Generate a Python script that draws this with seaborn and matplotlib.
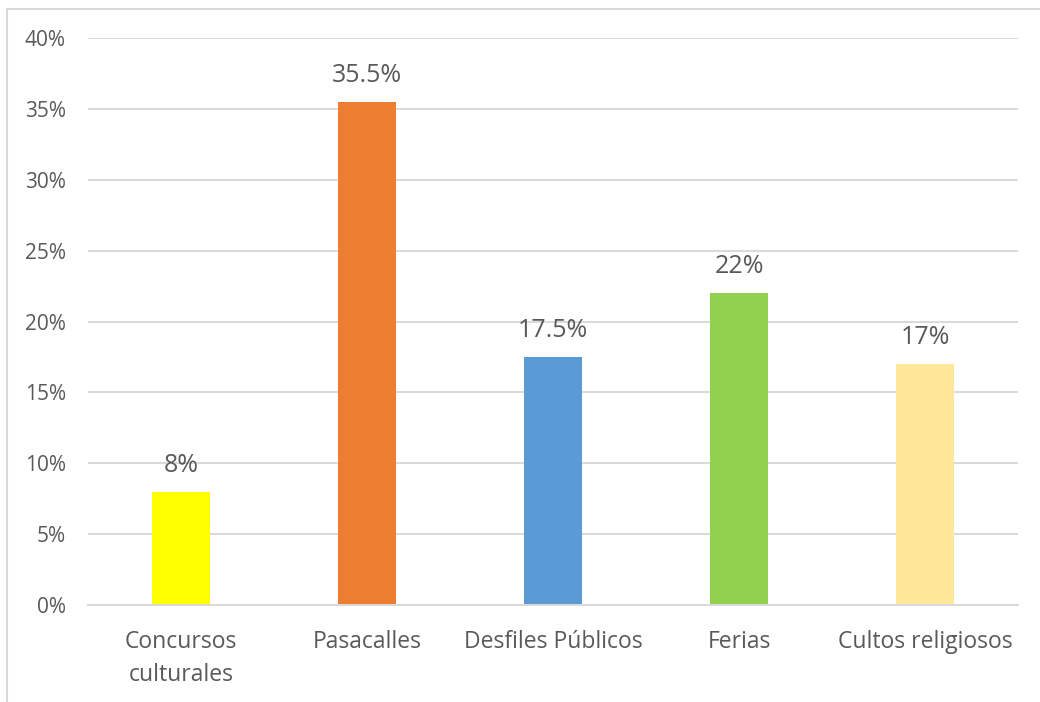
import matplotlib
matplotlib.use("Agg")
import matplotlib.pyplot as plt
import seaborn as sns
import pandas as pd
from matplotlib.patches import Rectangle
from matplotlib.ticker import FuncFormatter, MultipleLocator

categories = ["Concursos\nculturales", "Pasacalles", "Desfiles Públicos", "Ferias", "Cultos religiosos"]
values = [8, 35.5, 17.5, 22, 17]
labels = ["8%", "35.5%", "17.5%", "22%", "17%"]
colors = ["#FFFF00", "#ED7D31", "#5B9BD5", "#92D050", "#FFE699"]

sns.set_theme(style="white")
plt.rcParams["font.family"] = ["Open Sans", "DejaVu Sans"]

text_color = "#595959"
grid_color = "#D9D9D9"

df = pd.DataFrame({"categoria": categories, "valor": values})

fig = plt.figure(figsize=(10.4, 7.02), dpi=100)
ax = fig.add_axes([88 / 1040, 1 - 605 / 702, 930 / 1040, 567 / 702])

sns.barplot(data=df, x="categoria", y="valor", hue="categoria",
            palette=colors, width=0.317, legend=False, ax=ax,
            saturation=1, edgecolor="none", linewidth=0)

ax.set_ylim(0, 40)
ax.set_xlim(-0.5, len(categories) - 0.5)
ax.yaxis.set_major_locator(MultipleLocator(5))
ax.yaxis.set_major_formatter(FuncFormatter(lambda v, p: f"{v:.0f}%"))
ax.grid(axis="y", color=grid_color, linewidth=1.4)
ax.set_axisbelow(True)
for s in ["top", "right", "left"]:
    ax.spines[s].set_visible(False)
ax.spines["bottom"].set_color(grid_color)
ax.spines["bottom"].set_linewidth(1.4)

ax.set_xlabel("")
ax.set_ylabel("")
ax.tick_params(axis="both", length=0, colors=text_color)
ax.tick_params(axis="x", pad=18, labelsize=16.5)
ax.tick_params(axis="y", pad=16, labelsize=15)
for t in ax.get_xticklabels():
    t.set_linespacing(1.5)

for i, (v, lab) in enumerate(zip(values, labels)):
    ax.annotate(lab, xy=(i, v), xytext=(0, 10), textcoords="offset points",
                ha="center", va="bottom", fontsize=18, color=text_color)

# chart frame
fig.patches.append(Rectangle((6.5 / 1040, -0.1), 1.2, 1 - 8.5 / 702 + 0.1,
                             transform=fig.transFigure, fill=False,
                             edgecolor=grid_color, linewidth=1.5))

fig.savefig("out.png", dpi=100, facecolor="white")
